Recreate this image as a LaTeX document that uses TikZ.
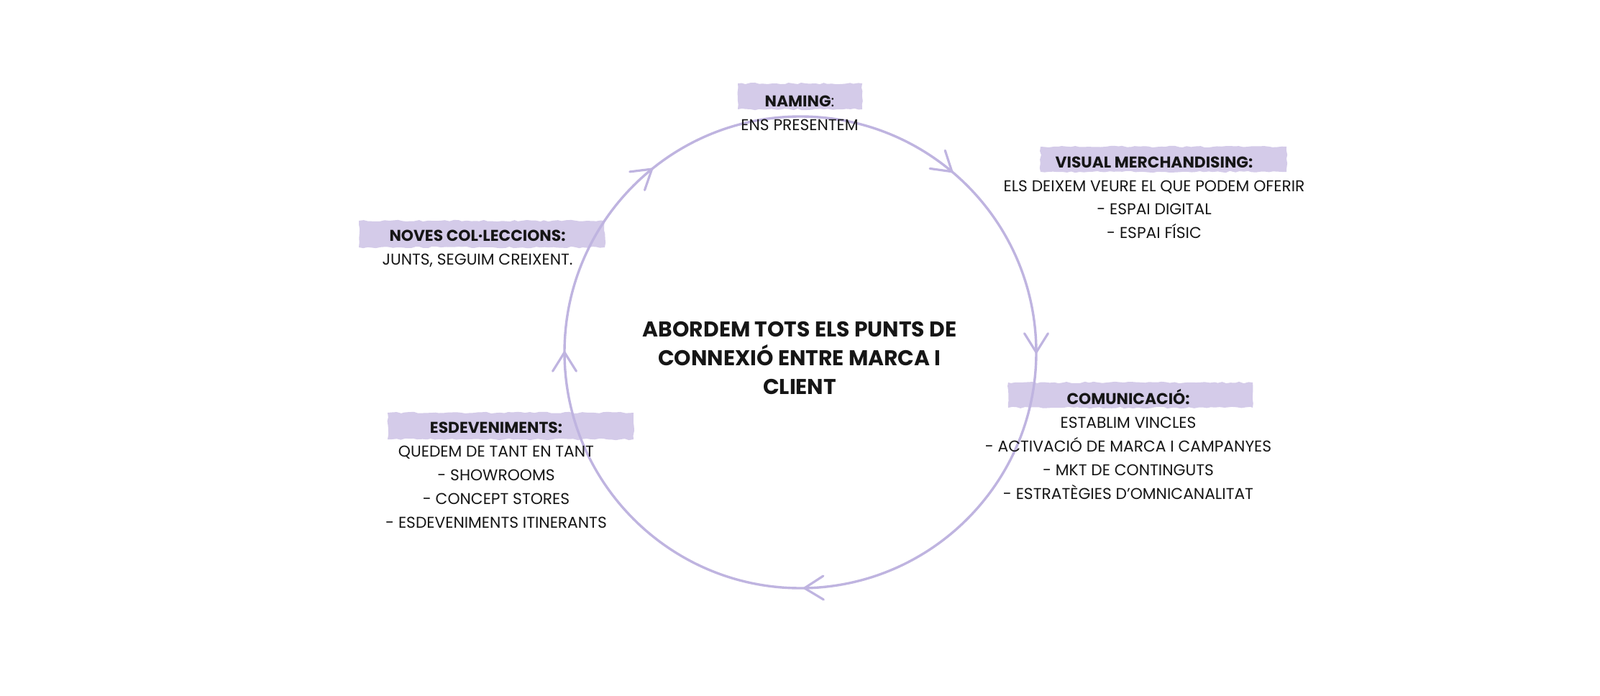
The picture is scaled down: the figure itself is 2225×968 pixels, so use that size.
\documentclass[tikz,border=0pt]{standalone}
\usepackage{fontspec}
\setmainfont{Poppins}
\usetikzlibrary{decorations.pathmorphing}
\definecolor{ringc}{HTML}{BFB4E0}
\definecolor{hlc}{HTML}{D4CBE9}
\definecolor{ink}{HTML}{161616}
\tikzset{
 ring/.style={draw=ringc, line width=3.4pt},
 chev/.style={draw=ringc, line width=3.2pt, line cap=round, line join=round},
 hl/.style={fill=hlc, draw=none, decorate, decoration={random steps, segment length=6pt, amplitude=1.2pt}},
 blk/.style={font=\fontsize{21.8}{33}\selectfont, text=ink, align=center, anchor=base, inner sep=0pt},
 ttl/.style={font=\bfseries\fontsize{29.8}{40}\selectfont, text=ink, align=center, anchor=base, inner sep=0pt},
}
\begin{document}
\begin{tikzpicture}[x=1pt,y=-1pt]
\useasboundingbox[fill=white] (0,0) rectangle (2225,968);
% highlight strokes
\path[hl] (1026,116) rectangle (1199,152);
\path[hl] (1447,204) rectangle (1789,239);
\path[hl] (499,307) rectangle (841,344);
\path[hl] (1402,532) rectangle (1742,567);
\path[hl] (539,574) rectangle (881,611);
% cycle
\begin{scope}[shift={(1113,490)}, yscale=-1]
 \coordinate (c) at (0,0);
 \draw[ring] (c) circle[radius=328];
 \foreach \a in {0,50,129,180,271}{
   \draw[chev] (\a:328) ++(\a+122:31) -- (\a:328) -- ++(\a+58:31);
 }
\end{scope}
% texts (anchor base = baseline of last line)
\node[ttl] (title) at (1112,548) {ABORDEM TOTS ELS PUNTS DE\\CONNEXIÓ ENTRE MARCA I\\CLIENT};
\node[blk] (naming) at (1112,182) {\textbf{NAMING}:\\ENS PRESENTEM};
\node[blk] (vm) at (1605,332) {\textbf{VISUAL MERCHANDISING:}\\ELS DEIXEM VEURE EL QUE PODEM OFERIR\\- ESPAI DIGITAL\\- ESPAI FÍSIC};
\node[blk] (noves) at (664,368) {\textbf{NOVES COL·LECCIONS:}\\JUNTS, SEGUIM CREIXENT.};
\node[blk] (com) at (1569,694) {\textbf{COMUNICACIÓ:}\\ESTABLIM VINCLES\\- ACTIVACIÓ DE MARCA I CAMPANYES\\- MKT DE CONTINGUTS\\- ESTRATÈGIES D’OMNICANALITAT};
\node[blk] (esd) at (690,734) {\textbf{ESDEVENIMENTS:}\\QUEDEM DE TANT EN TANT\\- SHOWROOMS\\- CONCEPT STORES\\- ESDEVENIMENTS ITINERANTS};
\end{tikzpicture}
\end{document}
